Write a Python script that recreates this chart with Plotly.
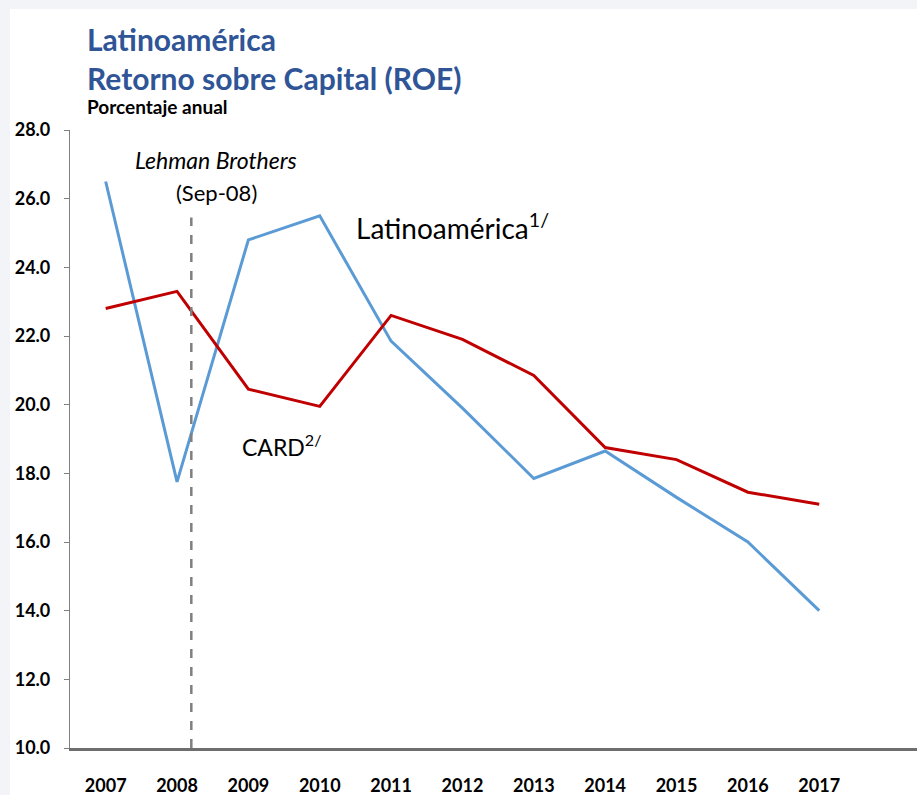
import plotly.graph_objects as go

# Annual return on equity, percent
years = ["2007", "2008", "2009", "2010", "2011", "2012",
         "2013", "2014", "2015", "2016", "2017"]
roe_latam = [26.5, 17.75, 24.8, 25.5, 21.85, 19.9, 17.85, 18.65, 17.3, 16.0, 14.0]
roe_card = [22.8, 23.3, 20.45, 19.95, 22.6, 21.9, 20.85, 18.75, 18.4, 17.45, 17.1]
y_ticks = [10, 12, 14, 16, 18, 20, 22, 24, 26, 28]

# Lehman Brothers collapse marker (position on the category axis, top value)
lehman_x = 1.2
lehman_top = 25.45

W, H = 917, 795
ML, MR, MT, MB = 70, 0, 130, 47
PW, PH = W - ML - MR, H - MT - MB

FONT = "Lato, Open Sans, sans-serif"
TITLE_BLUE = "#2F5597"


def px_x(x):
    return (x - ML) / PW


def px_y(y):
    return (MT + PH - y) / PH


fig = go.Figure()
fig.add_trace(go.Scatter(x=years, y=roe_latam, mode="lines", name="Latinoamérica",
                         line=dict(color="#5B9BD5", width=3)))
fig.add_trace(go.Scatter(x=years, y=roe_card, mode="lines", name="CARD",
                         line=dict(color="#C00000", width=3)))

shapes = [
    # white card on the light page background
    dict(type="rect", xref="paper", yref="paper", layer="below",
         x0=px_x(10), x1=1.02, y0=px_y(H + 5), y1=px_y(9),
         fillcolor="white", line=dict(width=0)),
    # Lehman Brothers event line
    dict(type="line", xref="x", yref="y", x0=lehman_x, x1=lehman_x,
         y0=10, y1=lehman_top, line=dict(color="#7F7F7F", width=2.5, dash="dash")),
]

annotations = [
    dict(text="<b>Latinoamérica</b>", x=px_x(85), y=px_y(39), font=dict(size=30, color=TITLE_BLUE)),
    dict(text="<b>Retorno sobre Capital (ROE)</b>", x=px_x(85), y=px_y(78), font=dict(size=30, color=TITLE_BLUE)),
    dict(text="<b>Porcentaje anual</b>", x=px_x(85), y=px_y(107), font=dict(size=19, color="black")),
    dict(text="<i>Lehman Brothers</i>", x=px_x(216), y=px_y(160), xanchor="center", font=dict(size=23, color="black")),
    dict(text="(Sep-08)", x=px_x(216), y=px_y(193), xanchor="center", font=dict(size=22, color="black")),
    dict(text="Latinoamérica<sup>1/</sup>", x=px_x(354), y=px_y(226), font=dict(size=28, color="black")),
    dict(text="CARD<sup>2/</sup>", x=px_x(240), y=px_y(445), font=dict(size=23, color="black")),
]
for a in annotations:
    a.setdefault("xanchor", "left")
    a.update(xref="paper", yref="paper", yanchor="middle", showarrow=False)
    a["font"]["family"] = FONT

fig.update_layout(
    width=W, height=H,
    margin=dict(l=ML, r=MR, t=MT, b=MB, pad=0),
    paper_bgcolor="#F2F4F8",
    plot_bgcolor="rgba(0,0,0,0)",
    showlegend=False,
    font=dict(family=FONT, color="black"),
    shapes=shapes,
    annotations=annotations,
    xaxis=dict(type="category", range=[-0.5, 11.37], showgrid=False, zeroline=False,
               showline=True, linecolor="#6E6E6E", linewidth=2.5, ticks="",
               tickfont=dict(size=18, family=FONT, color="black", weight="bold"),
               ticklabelstandoff=20),
    yaxis=dict(range=[10, 28], tickvals=y_ticks, tickformat=".1f", showgrid=False,
               zeroline=False, showline=True, linecolor="#808080", linewidth=1.2,
               ticks="outside", ticklen=5, tickcolor="#808080", tickwidth=1.2,
               tickfont=dict(size=18, family=FONT, color="black", weight="bold"),
               ticklabelstandoff=10),
)

fig.write_html("out.html")
